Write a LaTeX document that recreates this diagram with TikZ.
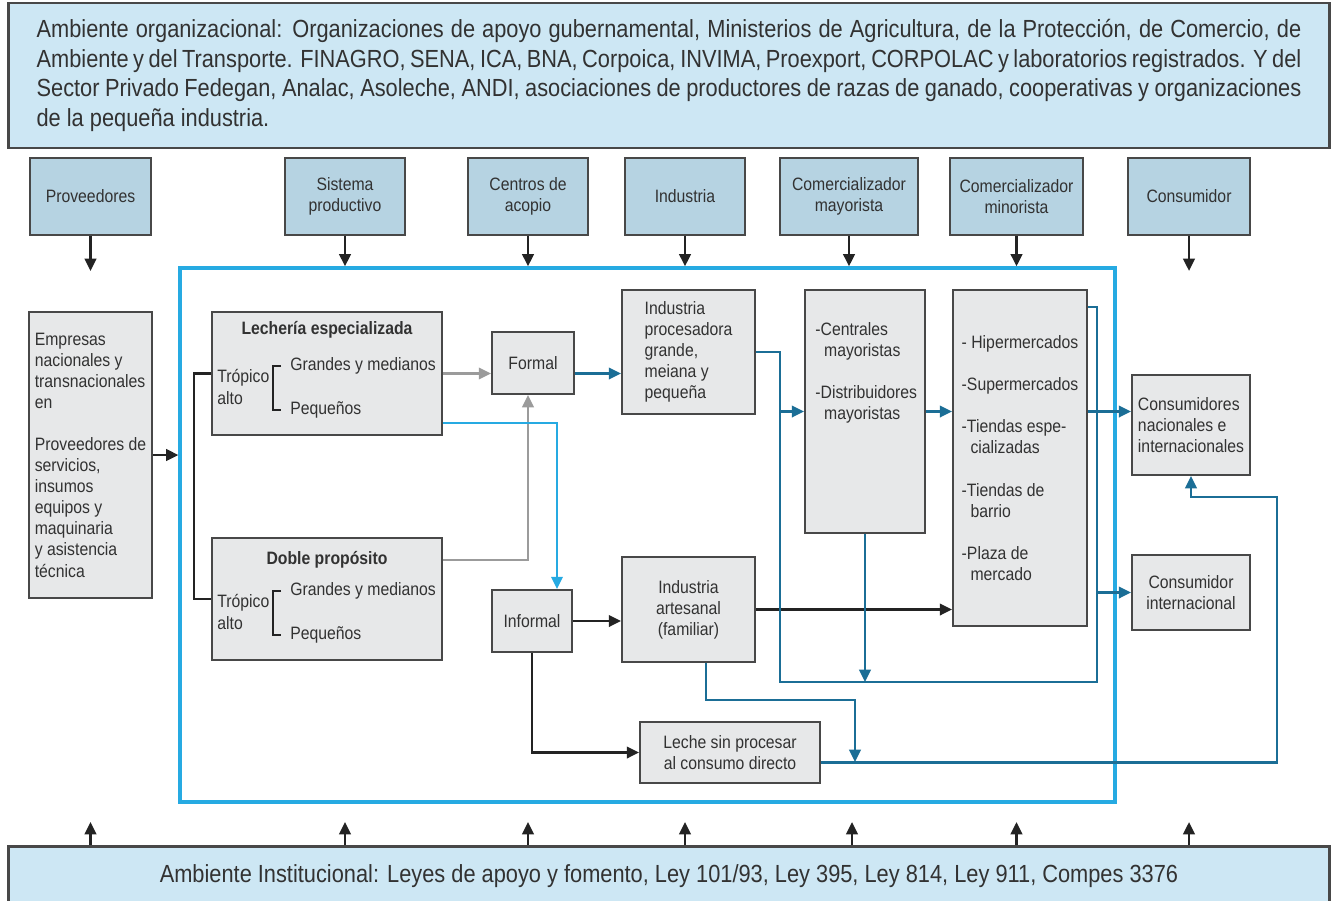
\documentclass[tikz,border=0pt]{standalone}
\usepackage{fontspec}
\setmainfont{Liberation Sans}[FakeStretch=0.88]
\usetikzlibrary{arrows.meta}

\definecolor{azulbanda}{RGB}{205,231,244}
\definecolor{azulcab}{RGB}{182,211,226}
\definecolor{grisbox}{RGB}{231,232,233}
\definecolor{borde}{RGB}{72,72,72}
\definecolor{letra}{RGB}{50,50,50}
\definecolor{celeste}{RGB}{38,170,226}
\definecolor{azulflujo}{RGB}{27,110,150}
\definecolor{grisflujo}{RGB}{155,155,155}
\definecolor{negro}{RGB}{35,35,35}

\begin{document}
\begin{tikzpicture}[x=0.02cm, y=-0.02cm,
    caja/.style={rectangle, draw=borde, fill=grisbox, text=letra, line width=1.1pt, font=\fontsize{10.2}{12}\selectfont, align=left},
    cabecera/.style={caja, fill=azulcab, align=center, minimum height=1.54cm},
    banda/.style={rectangle, draw=borde, fill=azulbanda, text=letra, line width=1.6pt, minimum width=26.44cm},
    texto/.style={font=\fontsize{10.2}{12}\selectfont, text=letra, inner sep=0pt, align=left},
    punta/.style={-{Triangle[length=7pt,width=6.5pt]}},
    negra/.style={draw=negro, line width=1.5pt},
    gris/.style={draw=grisflujo, line width=1.5pt},
    azul/.style={draw=azulflujo, line width=1.5pt},
    celestef/.style={draw=celeste, line width=1.5pt}]
    \useasboundingbox (0,0) rectangle (1337,900);

    % ambiente organizacional
    \node[banda, minimum height=2.9cm, text width=25.3cm, align=justify, font=\fontsize{14.1}{17}\selectfont] (org) at (669,75.5)
      {Ambiente organizacional: Organizaciones de apoyo gubernamental, Ministerios de Agricultura, de la Protección, de Comercio, de\linebreak
       Ambiente y del Transporte. FINAGRO, SENA, ICA, BNA, Corpoica, INVIMA, Proexport, CORPOLAC y laboratorios registrados. Y del\linebreak
       Sector Privado Fedegan, Analac, Asoleche, ANDI, asociaciones de productores de razas de ganado, cooperativas y organizaciones\linebreak
       de la pequeña industria.};

    % eslabones de la cadena
    \node[cabecera, minimum width=2.42cm] (prov) at (90.5,196.5) {Proveedores};
    \node[cabecera, minimum width=2.4cm] (sist) at (345,196.5) {Sistema\\productivo};
    \node[cabecera, minimum width=2.4cm] (acop) at (528,196.5) {Centros de\\acopio};
    \node[cabecera, minimum width=2.4cm] (indu) at (685,196.5) {Industria};
    \node[cabecera, minimum width=2.76cm] (cmay) at (849,196.5) {Comercializador\\mayorista};
    \node[cabecera, minimum width=2.66cm] (cmin) at (1016.5,196.5) {Comercializador\\minorista};
    \node[cabecera, minimum width=2.44cm] (cons) at (1189,196.5) {Consumidor};

    % marco celeste
    \node[rectangle, draw=celeste, line width=1.9pt, minimum width=18.7cm, minimum height=10.68cm] (marco) at (647.5,535) {};

    % cajas grises
    \node[caja, minimum width=2.42cm, minimum height=5.72cm] (empresas) at (90.5,455)
      {Empresas\\nacionales y\\transnacionales\\en\\[12pt]Proveedores de\\servicios,\\insumos\\equipos y\\maquinaria\\y asistencia\\técnica};

    \node[caja, minimum width=4.6cm, minimum height=2.46cm] (lech) at (327,373.5) {};
    \node[texto, font=\fontsize{10.2}{12}\selectfont\bfseries] (lechtit) at (327,330) {Lechería especializada};
    \node[texto, anchor=west] (lechtrop) at (217,387) {Trópico\\alto};
    \node[texto, anchor=west] (lechgm) at (290,366) {Grandes y medianos};
    \node[texto, anchor=west] (lechpq) at (290,410) {Pequeños};

    \node[caja, minimum width=4.6cm, minimum height=2.44cm] (doble) at (327,599) {};
    \node[texto, font=\fontsize{10.2}{12}\selectfont\bfseries] (dobletit) at (327,560) {Doble propósito};
    \node[texto, anchor=west] (dobletrop) at (217,612) {Trópico\\alto};
    \node[texto, anchor=west] (doblegm) at (290,591) {Grandes y medianos};
    \node[texto, anchor=west] (doblepq) at (290,635) {Pequeños};

    \node[caja, minimum width=1.64cm, minimum height=1.24cm, align=center] (formal) at (533,363) {Formal};
    \node[caja, minimum width=1.6cm, minimum height=1.24cm, align=center] (informal) at (532,621) {Informal};
    \node[caja, minimum width=2.66cm, minimum height=2.48cm] (iproc) at (688.5,352) {Industria\\procesadora\\grande,\\meiana y\\pequeña};
    \node[caja, minimum width=2.66cm, minimum height=2.1cm, align=center] (iart) at (688.5,609.5) {Industria\\artesanal\\(familiar)};
    \node[caja, minimum width=2.4cm, minimum height=4.86cm] (mayo) at (865,411.5) {};
    \node[texto, anchor=north west] (mayotxt) at (815,322) {-Centrales\\\hspace*{5pt}mayoristas\\[12pt]-Distribuidores\\\hspace*{5pt}mayoristas};
    \node[caja, minimum width=2.68cm, minimum height=6.72cm] (mino) at (1020,458)
      {- Hipermercados\\[12pt]-Supermercados\\[12pt]-Tiendas espe-\\\hspace*{5pt}cializadas\\[12pt]-Tiendas de\\\hspace*{5pt}barrio\\[12pt]-Plaza de\\\hspace*{5pt}mercado};
    \node[caja, minimum width=2.36cm, minimum height=2cm] (cnac) at (1191,425) {Consumidores\\nacionales e\\internacionales};
    \node[caja, minimum width=2.36cm, minimum height=1.5cm, align=center] (cint) at (1191,592.5) {Consumidor\\internacional};
    \node[caja, minimum width=3.6cm, minimum height=1.22cm, align=center] (leche) at (730,752.5) {Leche sin procesar\\al consumo directo};

    % ambiente institucional
    \node[banda, minimum height=1.2cm, anchor=north, font=\fontsize{14.1}{17}\selectfont] (inst) at (669,845)
      {\raisebox{2.8pt}{Ambiente Institucional: Leyes de apoyo y fomento, Ley 101/93, Ley 395, Ley 814, Ley 911, Compes 3376}};

    % flechas de los eslabones
    \draw[negra, punta] (prov.south) -- ++(0,35);
    \draw[negra, punta] (sist.south) -- (sist.south |- marco.north);
    \draw[negra, punta] (acop.south) -- (acop.south |- marco.north);
    \draw[negra, punta] (indu.south) -- (indu.south |- marco.north);
    \draw[negra, punta] (cmay.south) -- (cmay.south |- marco.north);
    \draw[negra, punta] (cmin.south) -- (cmin.south |- marco.north);
    \draw[negra, punta] (cons.south) -- ++(0,35);

    \draw[negra, punta] (prov |- inst.north) -- ++(0,-23);
    \draw[negra, punta] (sist |- inst.north) -- ++(0,-23);
    \draw[negra, punta] (acop |- inst.north) -- ++(0,-23);
    \draw[negra, punta] (indu |- inst.north) -- ++(0,-23);
    \draw[negra, punta] ([xshift=0.06cm]cmay.south |- inst.north) -- ++(0,-23);
    \draw[negra, punta] (cmin |- inst.north) -- ++(0,-23);
    \draw[negra, punta] (cons |- inst.north) -- ++(0,-23);

    % llaves de tropico alto
    \draw[negra, line width=1pt] ([xshift=-0.18cm]lechgm.west) -| ([xshift=-0.34cm]lechpq.west) -- ([xshift=-0.18cm]lechpq.west);
    \draw[negra, line width=1pt] ([xshift=-0.18cm]doblegm.west) -| ([xshift=-0.34cm]doblepq.west) -- ([xshift=-0.18cm]doblepq.west);

    % flujos
    \draw[negra, punta] (empresas.east) -- (marco.west |- empresas.east);
    \draw[negra] (lech.west) -- ++(-17,0) |- (doble.west);
    \draw[gris, punta] (lech.east) -- (formal.west |- lech.east);
    \draw[gris, punta] (doble.east |- dobletit) -| ([xshift=-0.1cm]formal.south);
    \draw[celestef, punta] ([yshift=0.26cm]lech.south east) -| ([xshift=0.5cm]informal.north);
    \draw[azul, punta] (formal.east |- lech.east) -- (iproc.west |- lech.east);
    \draw[negra, punta] (informal.east) -- (iart.west |- informal.east);
    \draw[negra, punta] (informal.south) |- (leche.west);
    \draw[negra, punta] (iart.east) -- (mino.west |- iart.east);

    \coordinate (codo) at (780,682);
    \coordinate (esq) at (1097,682);
    \draw[azul] (iproc.east) -| (codo) -- (esq) -- ([yshift=-0.36cm]esq |- mino.north) -- ([yshift=-0.36cm]mino.north east);
    \draw[azul, punta] (codo |- mayo.west) -- (mayo.west);
    \draw[azul, punta] (mayo.south) -- (mayo.south |- codo);
    \draw[azul, punta] (mayo.east) -- (mino.west |- mayo.east);
    \draw[azul, punta] (mino.east |- mayo.east) -- (cnac.west |- mayo.east);
    \draw[azul, punta] (cint.west -| esq) -- (cint.west);
    \draw[azul, punta] ([xshift=0.35cm]iart.south) |- (855,700) -- (855,762);
    \draw[azul, punta] ([yshift=-0.2cm]leche.east) -| (1277,497) -| (cnac.south);
  \end{tikzpicture}
\end{document}
